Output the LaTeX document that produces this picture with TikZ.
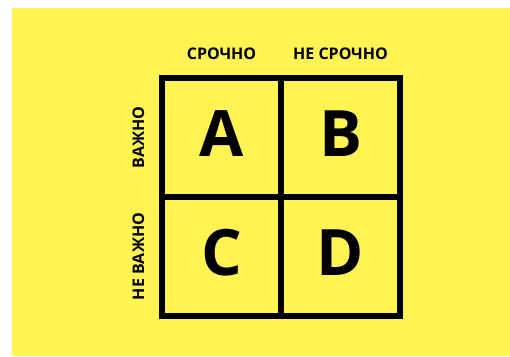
\documentclass[tikz,border=0pt]{standalone}
\usepackage{fontspec}
\setmainfont{Open Sans}
\definecolor{bgyellow}{RGB}{255,244,84}
\tikzset{
  gridline/.style={line width=6.5pt, line join=miter},
  lettercell/.style={font=\fontsize{64}{64}\selectfont\bfseries, inner sep=0pt, anchor=center},
  headlabel/.style={font=\fontsize{16}{16}\selectfont\bfseries, inner sep=0pt, anchor=center},
}
\begin{document}
\begin{tikzpicture}[x=1pt,y=-1pt]
  \useasboundingbox (0,0) rectangle (510,356);
  \fill[bgyellow] (12,8) rectangle (510,356);
  % grid
  \coordinate (tl) at (162,78);
  \coordinate (br) at (400,316);
  \draw[gridline] (tl) rectangle (br);
  \draw[gridline] (281,78) -- (281,316);
  \draw[gridline] (162,197) -- (400,197);
  % letters
  \node[lettercell] (A) at (221.5,133.5) {A};
  \node[lettercell] (B) at (340.5,133.5) {B};
  \node[lettercell] (C) at (221.5,252.5) {C};
  \node[lettercell] (D) at (340.5,252.5) {D};
  % column labels
  \node[headlabel] (srochno) at (221.5,54) {СРОЧНО};
  \node[headlabel] (nesrochno) at (340.5,54) {НЕ СРОЧНО};
  % row labels
  \node[headlabel, rotate=90] (vazhno) at (138.5,137.5) {ВАЖНО};
  \node[headlabel, rotate=90] (nevazhno) at (138.5,256.5) {НЕ ВАЖНО};
\end{tikzpicture}
\end{document}
